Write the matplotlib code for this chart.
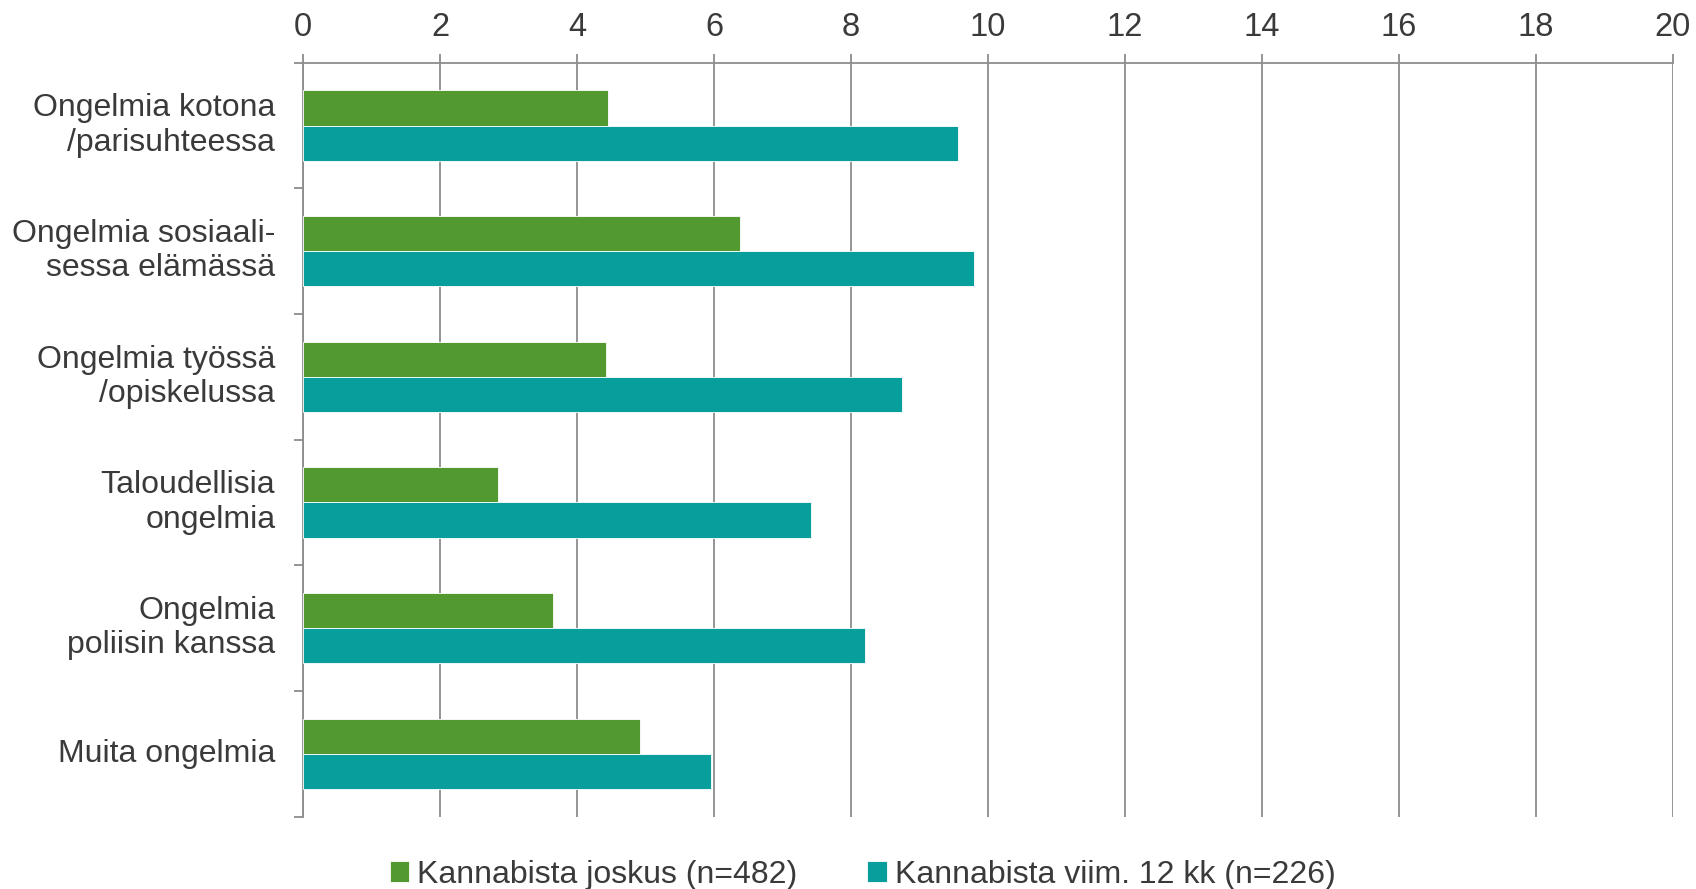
import matplotlib
matplotlib.use("Agg")
import matplotlib.pyplot as plt
import numpy as np

matplotlib.rcParams['font.family'] = ['Liberation Sans', 'DejaVu Sans']
matplotlib.rcParams['font.size'] = 23

# data
categories = [
    "Ongelmia kotona\n/parisuhteessa",
    "Ongelmia sosiaali-\nsessa elämässä",
    "Ongelmia työssä\n/opiskelussa",
    "Taloudellisia\nongelmia",
    "Ongelmia\npoliisin kanssa",
    "Muita ongelmia",
]
joskus = [4.45, 6.38, 4.43, 2.84, 3.65, 4.92]
viim12 = [9.56, 9.79, 8.75, 7.42, 8.20, 5.95]
series_names = ["Kannabista joskus (n=482)", "Kannabista viim. 12 kk (n=226)"]
xticks = list(range(0, 21, 2))

green = "#529a30"
teal = "#089e9c"
grid_col = "#8c8c8c"
text_col = "#3a3a3a"

fig = plt.figure(figsize=(16.96, 8.89), dpi=100)
ax = fig.add_axes([0.1787, 0.0814, 0.8077, 0.8481])

y = np.arange(len(categories))
h = 0.28
ax.barh(y - h / 2, joskus, height=h, color=green, edgecolor="white", linewidth=0.6,
        label=series_names[0], zorder=3)
ax.barh(y + h / 2, viim12, height=h, color=teal, edgecolor="white", linewidth=0.6,
        label=series_names[1], zorder=3)

ax.set_xlim(0, 20)
ax.set_ylim(len(categories) - 0.5, -0.5)

ax.xaxis.tick_top()
ax.set_xticks(xticks)
ax.set_xticklabels([str(t) for t in xticks])
ax.tick_params(axis="x", direction="out", length=6.5, width=1.3, color=grid_col,
               pad=8, labelcolor=text_col, labelsize=23.5)
ax.grid(axis="x", color=grid_col, linewidth=1.3, zorder=0)

# category labels at centres, tick marks at band edges
ax.set_yticks(y)
ax.set_yticklabels(categories, ha="right", va="center", color=text_col,
                   linespacing=1.2)
ax.tick_params(axis="y", which="major", length=0, pad=20, labelsize=23)
ax.set_yticks(np.arange(len(categories) + 1) - 0.5, minor=True)
ax.tick_params(axis="y", which="minor", length=6.5, width=1.3, color=grid_col)

for s in ["right", "bottom"]:
    ax.spines[s].set_visible(False)
for s in ["top", "left"]:
    ax.spines[s].set_color(grid_col)
    ax.spines[s].set_linewidth(1.3)

fig.legend(loc="center", bbox_to_anchor=(0.5086, 0.016), ncol=2, frameon=False,
           handlelength=0.6, handleheight=0.6, handletextpad=0.25,
           columnspacing=2.2, prop={"size": 23}, labelcolor=text_col)

fig.savefig("out.png", dpi=100)
